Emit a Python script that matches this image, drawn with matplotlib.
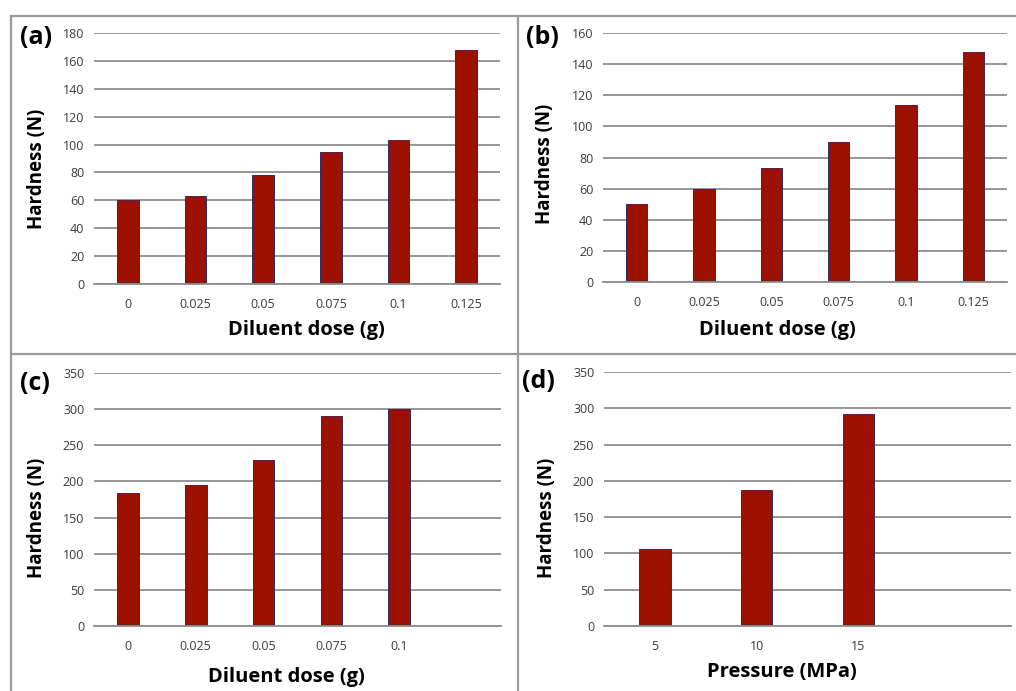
import matplotlib
matplotlib.use("Agg")
import matplotlib.pyplot as plt
from matplotlib.lines import Line2D
import numpy as np

# ---- data ----
doses_ab = ["0", "0.025", "0.05", "0.075", "0.1", "0.125"]
hard_a = [60, 63, 78, 95, 103, 168]
hard_b = [50, 60, 73, 90, 114, 148]
doses_c = ["0", "0.025", "0.05", "0.075", "0.1"]
hard_c = [184, 195, 229, 291, 300]
press_d = ["5", "10", "15"]
hard_d = [106, 188, 292]

W, H = 1016, 691
fig = plt.figure(figsize=(W / 100, H / 100), dpi=100)
fig.patch.set_facecolor("white")
plt.rcParams['font.family'] = ['Open Sans', 'DejaVu Sans']

BAR = "#9C1000"
EDGE = "#2E2A6A"
GRID = "#8E8E8E"
TICK = "#3A3A3A"


def px_axes(x0, y0, x1, y1):
    return fig.add_axes([x0 / W, 1 - y1 / H, (x1 - x0) / W, (y1 - y0) / H])


def panel(box, cats, vals, nslots, ymax, ystep, letter, letter_xy, xlabel,
          xlabel_xy, ylabel_xy, bw):
    ax = px_axes(*box)
    x = np.arange(len(cats))
    ax.bar(x, vals, width=bw, color=BAR, edgecolor=EDGE, linewidth=0.7, zorder=3)
    ax.set_xlim(-0.5, nslots - 0.5)
    ax.set_ylim(0, ymax)
    ax.set_yticks(np.arange(0, ymax + 1, ystep))
    ax.set_xticks(x)
    ax.set_xticklabels(cats)
    ax.yaxis.grid(True, color=GRID, linewidth=1.3, zorder=0)
    ax.set_axisbelow(True)
    for s in ["top", "right", "left"]:
        ax.spines[s].set_visible(False)
    ax.spines["bottom"].set_color(GRID)
    ax.spines["bottom"].set_linewidth(1.3)
    ax.spines["bottom"].set_zorder(4)
    ax.tick_params(axis="both", length=0, labelsize=9, labelcolor=TICK)
    ax.tick_params(axis="y", pad=7)
    ax.tick_params(axis="x", pad=10)
    fig.text(letter_xy[0] / W, 1 - letter_xy[1] / H, letter, fontsize=18,
             fontweight="bold", ha="left", va="center", color="black")
    fig.text(xlabel_xy[0] / W, 1 - xlabel_xy[1] / H, xlabel, fontsize=14.5,
             fontweight="bold", ha="center", va="center")
    fig.text(ylabel_xy[0] / W, 1 - ylabel_xy[1] / H, "Hardness (N)", fontsize=13.5,
             fontweight="bold", ha="center", va="center", rotation=90)
    return ax


panel((94, 33, 500, 284), doses_ab, hard_a, 6, 180, 20, "(a)", (20, 37),
      "Diluent dose (g)", (306, 330), (37, 169), 0.32)
panel((603, 33, 1007, 282), doses_ab, hard_b, 6, 160, 20, "(b)", (526, 37),
      "Diluent dose (g)", (777, 330), (545, 164), 0.32)
panel((94, 373, 501, 626), doses_c, hard_c, 6, 350, 50, "(c)", (20, 383),
      "Diluent dose (g)", (286, 677), (37, 518), 0.32)
panel((604, 372, 1011, 626), press_d, hard_d, 4, 350, 50, "(d)", (522, 382),
      "Pressure (MPa)", (782, 672), (547, 518), 0.31)

# panel frames
FR = "#9A9A9A"
def fline(xs, ys, lw=1.6):
    fig.add_artist(Line2D([v / W for v in xs], [1 - v / H for v in ys],
                          color=FR, linewidth=lw, transform=fig.transFigure))

fline([11, 1016], [16, 16])
fline([11, 11], [16, 691])
fline([517.5, 517.5], [16, 691])
fline([11, 1016], [354, 354])

fig.savefig("out.png", dpi=100, facecolor="white")
